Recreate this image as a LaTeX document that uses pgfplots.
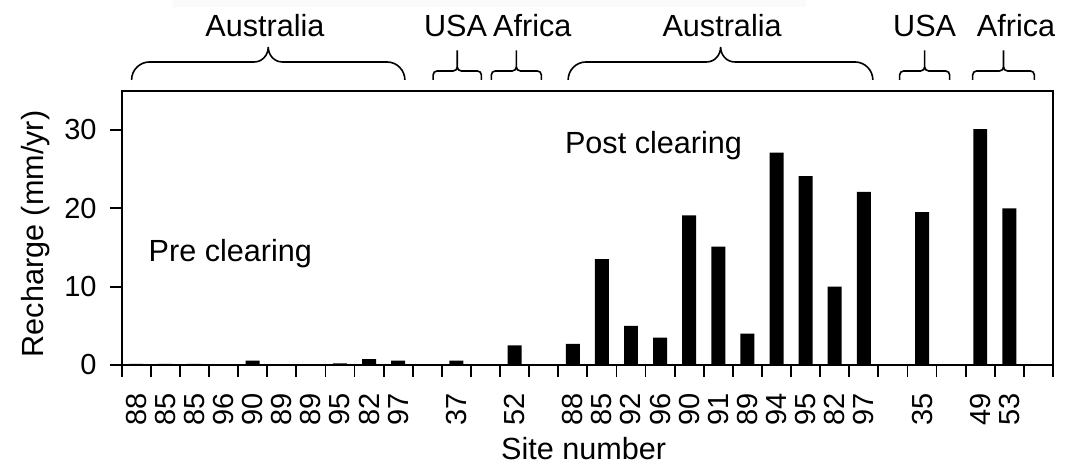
\documentclass[border=0pt]{standalone}
\usepackage{pgfplots}
\pgfplotsset{compat=1.18}
\usepackage{fontspec}
\setmainfont{Liberation Sans}

\newcommand{\bigbrace}[4]{%
  \draw[line width=0.8pt] (axis cs:#1,#4) to[out=90,in=180] ([xshift=9pt,yshift=9pt]axis cs:#1,#4)
    -- ([xshift=-7pt,yshift=9pt]axis cs:#2,#4) to[out=0,in=-90] ([yshift=16.5pt]axis cs:#2,#4)
    to[out=-90,in=180] ([xshift=7pt,yshift=9pt]axis cs:#2,#4)
    -- ([xshift=-9pt,yshift=9pt]axis cs:#3,#4) to[out=0,in=90] (axis cs:#3,#4);}
\newcommand{\smallbrace}[4]{%
  \draw[line width=0.8pt, rounded corners=2pt] (axis cs:#1,#4) -- ([yshift=4.5pt]axis cs:#1,#4)
    -- ([yshift=4.5pt]axis cs:#2,#4) -- ([yshift=16pt]axis cs:#2,#4) -- ([yshift=4.5pt]axis cs:#2,#4)
    -- ([yshift=4.5pt]axis cs:#3,#4) -- (axis cs:#3,#4);}
\newcommand{\region}[2]{\node[anchor=base, inner sep=0pt, font=\fontsize{15.3}{18}\selectfont] at (axis cs:#1,41.9) {#2};}

\begin{document}
\begin{tikzpicture}
\path[use as bounding box] (-60.85pt,-49.5pt) rectangle (472.15pt,182.5pt);
\fill[gray!4] (25.65pt,179pt) rectangle (342.15pt,182.5pt);
\begin{axis}[
  at={(0pt,0pt)}, anchor=south west,
  scale only axis, width=465.65pt, height=137.15pt,
  xmin=-0.5, xmax=31.5, ymin=0, ymax=35,
  axis line style={line width=1pt},
  tick align=outside, xtick pos=bottom, ytick pos=left,
  major tick length=5.85pt, minor tick length=5.85pt,
  xtick={0,1,2,3,4,5,6,7,8,9,11,13,15,16,17,18,19,20,21,22,23,24,25,27,29,30},
  xticklabels={88,85,85,96,90,89,89,95,82,97,37,52,88,85,92,96,90,91,89,94,95,82,97,35,49,53},
  minor xtick={-0.5,0.5,...,31.5},
  major x tick style={draw=none},
  minor x tick style={line width=0.9pt, black},
  ytick={0,10,20,30},
  y tick style={line width=0.9pt, black},
  /pgf/number format/assume math mode=true,
  ticklabel style={font=\fontsize{14.5}{17}\selectfont},
  xticklabel style={rotate=90, anchor=east, inner sep=0pt, inner xsep=8pt},
  yticklabel style={inner sep=0pt, xshift=-6.5pt},
  label style={font=\fontsize{15.3}{18}\selectfont},
  xlabel={Site number},
  xlabel style={at={(axis description cs:0.496,-0.3463)}, anchor=base, inner sep=0pt},
  ylabel={Recharge (mm/yr)},
  ylabel style={at={(axis description cs:-0.077,0.478)}, anchor=south, inner sep=0pt},
  clip=false,
]
\addplot[ybar, bar width=0.48, fill=black, draw=none] coordinates {
 (0,0.15) (1,0.15) (2,0.15) (3,0.1) (4,0.55) (5,0.1) (6,0.1) (7,0.2) (8,0.75) (9,0.55)
 (11,0.55) (13,2.5)
 (15,2.7) (16,13.5) (17,5.0) (18,3.5) (19,19.1) (20,15.1) (21,4.0) (22,27.1) (23,24.1) (24,10.0) (25,22.1)
 (27,19.5) (29,30.1) (30,20.0)
};
\node[anchor=base west, inner sep=0pt, font=\fontsize{15.3}{18}\selectfont] at (axis cs:0.415,13.18) {Pre clearing};
\node[anchor=base west, inner sep=0pt, font=\fontsize{15.3}{18}\selectfont] at (axis cs:14.72,27.0) {Post clearing};
\bigbrace{-0.16}{4.535}{9.23}{36.37}
\smallbrace{10.2}{11.03}{11.86}{36.37}
\smallbrace{12.2}{13.06}{13.92}{36.37}
\bigbrace{14.84}{20.08}{25.31}{36.37}
\smallbrace{26.23}{27.09}{27.95}{36.37}
\smallbrace{28.74}{29.8}{30.86}{36.37}
\region{4.42}{Australia}
\region{10.97}{USA}
\region{13.61}{Africa}
\region{20.13}{Australia}
\region{27.09}{USA}
\region{30.23}{Africa}
\end{axis}
\end{tikzpicture}
\end{document}
